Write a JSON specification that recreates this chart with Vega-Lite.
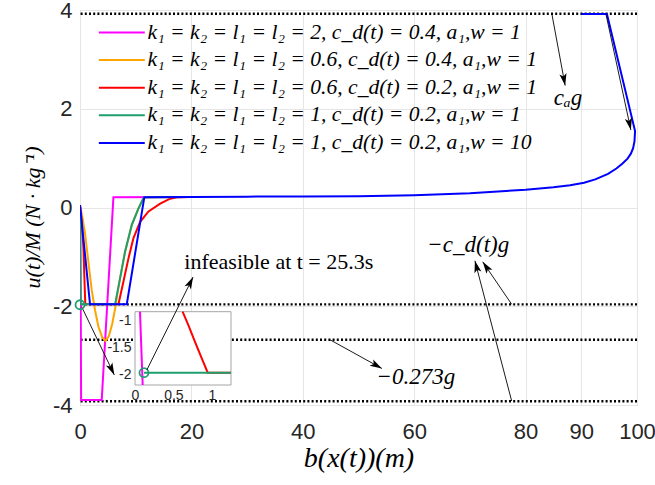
{
  "$schema": "https://vega.github.io/schema/vega-lite/v6.json",
  "width": 557,
  "height": 395,
  "autosize": {"type": "none"},
  "padding": {"left": 80, "top": 10, "right": 18, "bottom": 80},
  "background": "white",
  "config": {
    "view": {"stroke": "#a6a6a6", "strokeWidth": 1},
    "axis": {
      "grid": true, "gridColor": "#e6e6e6", "domain": false, "ticks": false,
      "labelFont": "Liberation Sans", "labelFontSize": 22, "labelColor": "#262626", "labelFlush": false,
      "titleFont": "Liberation Serif", "titleFontStyle": "italic", "titleFontWeight": "normal", "titleColor": "#000000"
    }
  },
  "datasets": {
    "names": [
      {"s": 1, "label": "k₁ = k₂ = l₁ = l₂ = 2, c_d(t) = 0.4, a₁,w = 1"},
      {"s": 2, "label": "k₁ = k₂ = l₁ = l₂ = 0.6, c_d(t) = 0.4, a₁,w = 1"},
      {"s": 3, "label": "k₁ = k₂ = l₁ = l₂ = 0.6, c_d(t) = 0.2, a₁,w = 1"},
      {"s": 4, "label": "k₁ = k₂ = l₁ = l₂ = 1, c_d(t) = 0.2, a₁,w = 1"},
      {"s": 5, "label": "k₁ = k₂ = l₁ = l₂ = 1, c_d(t) = 0.2, a₁,w = 10"}
    ],
    "refs": [{"y": 3.924}, {"y": -1.962}, {"y": -2.678}, {"y": -3.924}],
    "lines": [
      {"s": 1, "o": 1, "x": 0, "y": 0.05}, {"s": 1, "o": 2, "x": 0.06, "y": -0.55}, {"s": 1, "o": 3, "x": 0.1, "y": -1.3}, {"s": 1, "o": 4, "x": 0.14, "y": -2.3}, {"s": 1, "o": 5, "x": 0.2, "y": -3.9}, {"s": 1, "o": 6, "x": 3.9, "y": -3.9}, {"s": 1, "o": 7, "x": 6.0, "y": 0.21}, {"s": 1, "o": 8, "x": 20, "y": 0.215},
      {"s": 2, "o": 1, "x": 0, "y": 0.05}, {"s": 2, "o": 2, "x": 0.4, "y": -0.18}, {"s": 2, "o": 3, "x": 0.9, "y": -0.52}, {"s": 2, "o": 4, "x": 1.5, "y": -1.1}, {"s": 2, "o": 5, "x": 2.1, "y": -1.67}, {"s": 2, "o": 6, "x": 2.7, "y": -2.08}, {"s": 2, "o": 7, "x": 3.3, "y": -2.41}, {"s": 2, "o": 8, "x": 4.0, "y": -2.63}, {"s": 2, "o": 9, "x": 4.6, "y": -2.7}, {"s": 2, "o": 10, "x": 5.2, "y": -2.6}, {"s": 2, "o": 11, "x": 5.8, "y": -2.35}, {"s": 2, "o": 12, "x": 6.3, "y": -2.05}, {"s": 2, "o": 13, "x": 6.7, "y": -1.75}, {"s": 2, "o": 14, "x": 7.2, "y": -1.43}, {"s": 2, "o": 15, "x": 8.1, "y": -0.89}, {"s": 2, "o": 16, "x": 9.3, "y": -0.35}, {"s": 2, "o": 17, "x": 10.5, "y": -0.02}, {"s": 2, "o": 18, "x": 11.4, "y": 0.19}, {"s": 2, "o": 19, "x": 12, "y": 0.21}, {"s": 2, "o": 20, "x": 20, "y": 0.215},
      {"s": 3, "o": 1, "x": 0, "y": 0.05}, {"s": 3, "o": 2, "x": 0.3, "y": -0.3}, {"s": 3, "o": 3, "x": 0.62, "y": -0.83}, {"s": 3, "o": 4, "x": 0.78, "y": -1.39}, {"s": 3, "o": 5, "x": 0.95, "y": -1.96}, {"s": 3, "o": 6, "x": 6.9, "y": -1.96}, {"s": 3, "o": 7, "x": 7.8, "y": -1.5}, {"s": 3, "o": 8, "x": 8.7, "y": -1.03}, {"s": 3, "o": 9, "x": 9.6, "y": -0.62}, {"s": 3, "o": 10, "x": 10.8, "y": -0.29}, {"s": 3, "o": 11, "x": 12.3, "y": -0.08}, {"s": 3, "o": 12, "x": 14.4, "y": 0.08}, {"s": 3, "o": 13, "x": 16, "y": 0.17}, {"s": 3, "o": 14, "x": 17.6, "y": 0.21}, {"s": 3, "o": 15, "x": 20, "y": 0.215},
      {"s": 4, "o": 1, "x": 0, "y": 0.05}, {"s": 4, "o": 2, "x": 0.05, "y": -0.8}, {"s": 4, "o": 3, "x": 0.117, "y": -1.96}, {"s": 4, "o": 4, "x": 6.3, "y": -1.96}, {"s": 4, "o": 5, "x": 7.2, "y": -1.43}, {"s": 4, "o": 6, "x": 8.1, "y": -0.89}, {"s": 4, "o": 7, "x": 9.3, "y": -0.35}, {"s": 4, "o": 8, "x": 10.5, "y": -0.02}, {"s": 4, "o": 9, "x": 11.4, "y": 0.19}, {"s": 4, "o": 10, "x": 12, "y": 0.21}, {"s": 4, "o": 11, "x": 20, "y": 0.215},
      {"s": 5, "o": 1, "x": 0, "y": 0.05}, {"s": 5, "o": 2, "x": 1.8, "y": -1.96}, {"s": 5, "o": 3, "x": 8.4, "y": -1.96}, {"s": 5, "o": 4, "x": 11.55, "y": 0.21}, {"s": 5, "o": 5, "x": 20, "y": 0.215}, {"s": 5, "o": 6, "x": 30, "y": 0.22}, {"s": 5, "o": 7, "x": 40, "y": 0.225}, {"s": 5, "o": 8, "x": 50, "y": 0.23}, {"s": 5, "o": 9, "x": 60, "y": 0.25}, {"s": 5, "o": 10, "x": 70, "y": 0.29}, {"s": 5, "o": 11, "x": 80, "y": 0.36}, {"s": 5, "o": 12, "x": 85, "y": 0.41}, {"s": 5, "o": 13, "x": 88, "y": 0.45}, {"s": 5, "o": 14, "x": 90.5, "y": 0.5}, {"s": 5, "o": 15, "x": 92.5, "y": 0.57}, {"s": 5, "o": 16, "x": 94.8, "y": 0.68}, {"s": 5, "o": 17, "x": 96.3, "y": 0.79}, {"s": 5, "o": 18, "x": 97.4, "y": 0.89}, {"s": 5, "o": 19, "x": 98.3, "y": 0.99}, {"s": 5, "o": 20, "x": 98.9, "y": 1.09}, {"s": 5, "o": 21, "x": 99.3, "y": 1.2}, {"s": 5, "o": 22, "x": 99.55, "y": 1.34}, {"s": 5, "o": 23, "x": 99.65, "y": 1.55}, {"s": 5, "o": 24, "x": 94.6, "y": 3.92}, {"s": 5, "o": 25, "x": 90, "y": 3.92}
    ],
    "inset": [
      {"s": 1, "o": 1, "x": 0.065, "y": -0.83}, {"s": 1, "o": 2, "x": 0.1, "y": -2.2},
      {"s": 3, "o": 1, "x": 0.62, "y": -0.83}, {"s": 3, "o": 2, "x": 0.7, "y": -1.1}, {"s": 3, "o": 3, "x": 0.78, "y": -1.39}, {"s": 3, "o": 4, "x": 0.86, "y": -1.67}, {"s": 3, "o": 5, "x": 0.947, "y": -1.97}, {"s": 3, "o": 6, "x": 1.25, "y": -1.97},
      {"s": 4, "o": 1, "x": 0.117, "y": -1.97}, {"s": 4, "o": 2, "x": 1.25, "y": -1.97}
    ],
    "insetCircle": [{"x": 0.117, "y": -1.97}],
    "mainCircle": [{"x": 0, "y": -1.97}],
    "arrows": [
      {"x1": 84.7, "y1": 3.93, "x2": 87.1, "y2": 2.47},
      {"x1": 94.4, "y1": 3.93, "x2": 98.9, "y2": 1.57},
      {"x1": 77.5, "y1": -1.96, "x2": 72.3, "y2": -1.1},
      {"x1": 77.5, "y1": -3.92, "x2": 70.9, "y2": -1.08},
      {"x1": 44.9, "y1": -2.68, "x2": 54.2, "y2": -3.26},
      {"x1": 0.3, "y1": -2.01, "x2": 6.16, "y2": -3.39},
      {"x1": 12.0, "y1": -3.29, "x2": 20.3, "y2": -1.41}
    ],
    "mathLabels": [
      {"x": 87.6, "y": 2.21, "text": "cₐg"},
      {"x": 69.7, "y": -0.76, "text": "−c_d(t)g"},
      {"x": 60.3, "y": -3.43, "text": "−0.273g"}
    ],
    "textLabels": [
      {"x": 35.7, "y": -1.1, "text": "infeasible at t = 25.3s"}
    ]
  },
  "resolve": {"scale": {"x": "independent", "y": "independent"}},
  "layer": [
    {
      "layer": [
        {
          "data": {"name": "refs"},
          "mark": {"type": "rule", "strokeDash": [2, 2.2], "strokeWidth": 2.4, "color": "black"},
          "encoding": {
            "y": {"field": "y", "type": "quantitative", "scale": {"domain": [-4, 4], "nice": false, "zero": false}}
          }
        },
        {
          "data": {"name": "lines"},
          "transform": [{"lookup": "s", "from": {"data": {"name": "names"}, "key": "s", "fields": ["label"]}}],
          "mark": {"type": "line", "strokeWidth": 2, "clip": true},
          "encoding": {
            "x": {"field": "x", "type": "quantitative", "scale": {"domain": [0, 100], "nice": false, "zero": false},
                  "axis": {"values": [0, 20, 40, 60, 80, 90, 100], "labelPadding": 16, "title": "b(x(t))(m)", "titleFontSize": 28, "titleY": 61, "titleBaseline": "alphabetic"}},
            "y": {"field": "y", "type": "quantitative", "scale": {"domain": [-4, 4], "nice": false, "zero": false},
                  "axis": {"values": [-4, -2, 0, 2, 4], "labelPadding": 8, "labelExpr": "replace(datum.label, '−', '-')", "title": "u(t)/M (N · kg⁻¹)", "titleFontSize": 22, "titleX": -41, "titleY": 207, "titleAngle": -90, "titleAlign": "center", "titleBaseline": "alphabetic"}},
            "color": {"field": "label", "type": "nominal",
                      "scale": {"domain": [
                        "k₁ = k₂ = l₁ = l₂ = 2, c_d(t) = 0.4, a₁,w = 1",
                        "k₁ = k₂ = l₁ = l₂ = 0.6, c_d(t) = 0.4, a₁,w = 1",
                        "k₁ = k₂ = l₁ = l₂ = 0.6, c_d(t) = 0.2, a₁,w = 1",
                        "k₁ = k₂ = l₁ = l₂ = 1, c_d(t) = 0.2, a₁,w = 1",
                        "k₁ = k₂ = l₁ = l₂ = 1, c_d(t) = 0.2, a₁,w = 10"],
                        "range": ["#ff00ff", "#ffa500", "#ff0000", "#1f9e6e", "#0000ff"]},
                      "legend": {"orient": "none", "legendX": 31, "legendY": 11.7, "title": null, "padding": 0,
                                 "symbolType": "M-4,0H4", "symbolSize": 132, "symbolStrokeWidth": 2,
                                 "labelFont": "Liberation Serif", "labelFontStyle": "italic", "labelFontSize": 21.6, "labelColor": "#000000",
                                 "labelOffset": 15, "labelLimit": 0, "rowPadding": 4.6}},
            "order": {"field": "o", "type": "quantitative"}
          }
        }
      ]
    },
    {
      "layer": [
        {
          "data": {"values": [{}]},
          "mark": {"type": "rect", "fill": "white", "stroke": "#a6a6a6", "strokeWidth": 1},
          "encoding": {
            "x": {"datum": 0, "type": "quantitative", "scale": {"domain": [0, 1.25], "range": [55, 151], "nice": false, "zero": false},
                  "axis": {"orient": "bottom", "offset": -20, "values": [0, 0.5, 1], "format": "~g", "grid": false, "labelFontSize": 14, "labelPadding": 3, "title": null}},
            "x2": {"datum": 1.25},
            "y": {"datum": -2.2, "type": "quantitative", "scale": {"domain": [-2.2, -0.83], "range": [375, 301.7], "nice": false, "zero": false},
                  "axis": {"orient": "left", "offset": -55, "values": [-2, -1.5, -1], "format": "~g", "grid": false, "labelFontSize": 14, "labelPadding": 4, "title": null, "labelExpr": "replace(datum.label, '−', '-')"}},
            "y2": {"datum": -0.83}
          }
        },
        {
          "data": {"name": "inset"},
          "transform": [{"lookup": "s", "from": {"data": {"name": "names"}, "key": "s", "fields": ["label"]}}],
          "mark": {"type": "line", "strokeWidth": 2},
          "encoding": {
            "x": {"field": "x", "type": "quantitative"},
            "y": {"field": "y", "type": "quantitative"},
            "color": {"field": "label", "type": "nominal", "legend": null},
            "order": {"field": "o", "type": "quantitative"}
          }
        },
        {
          "data": {"name": "insetCircle"},
          "mark": {"type": "point", "shape": "circle", "filled": false, "stroke": "#1f9e6e", "strokeWidth": 1.8, "size": 81, "opacity": 1},
          "encoding": {
            "x": {"field": "x", "type": "quantitative"},
            "y": {"field": "y", "type": "quantitative"}
          }
        }
      ]
    },
    {
      "layer": [
        {
          "data": {"name": "arrows"},
          "mark": {"type": "rule", "color": "black", "strokeWidth": 0.9},
          "encoding": {
            "x": {"field": "x1", "type": "quantitative", "scale": {"domain": [0, 100], "nice": false, "zero": false}, "axis": null},
            "y": {"field": "y1", "type": "quantitative", "scale": {"domain": [-4, 4], "nice": false, "zero": false}, "axis": null},
            "x2": {"field": "x2"},
            "y2": {"field": "y2"}
          }
        },
        {
          "data": {"name": "arrows"},
          "transform": [{"calculate": "atan2((datum.x2 - datum.x1) * 5.57, (datum.y2 - datum.y1) * 49.375) * 180 / PI", "as": "ang"}],
          "mark": {"type": "point", "shape": "M0,0L0.45,1.5L0,1.15L-0.45,1.5Z", "filled": true, "color": "black", "size": 256, "opacity": 1},
          "encoding": {
            "x": {"field": "x2", "type": "quantitative"},
            "y": {"field": "y2", "type": "quantitative"},
            "angle": {"field": "ang", "type": "quantitative", "scale": null}
          }
        },
        {
          "data": {"name": "mainCircle"},
          "mark": {"type": "point", "shape": "circle", "filled": false, "stroke": "#1f9e6e", "strokeWidth": 1.8, "size": 81, "opacity": 1},
          "encoding": {
            "x": {"field": "x", "type": "quantitative"},
            "y": {"field": "y", "type": "quantitative"}
          }
        },
        {
          "data": {"name": "mathLabels"},
          "mark": {"type": "text", "font": "Liberation Serif", "fontStyle": "italic", "fontSize": 23, "align": "center", "baseline": "middle", "color": "black"},
          "encoding": {
            "x": {"field": "x", "type": "quantitative"},
            "y": {"field": "y", "type": "quantitative"},
            "text": {"field": "text"}
          }
        },
        {
          "data": {"name": "textLabels"},
          "mark": {"type": "text", "font": "Liberation Serif", "fontSize": 22, "align": "center", "baseline": "middle", "color": "black"},
          "encoding": {
            "x": {"field": "x", "type": "quantitative"},
            "y": {"field": "y", "type": "quantitative"},
            "text": {"field": "text"}
          }
        }
      ]
    }
  ]
}
